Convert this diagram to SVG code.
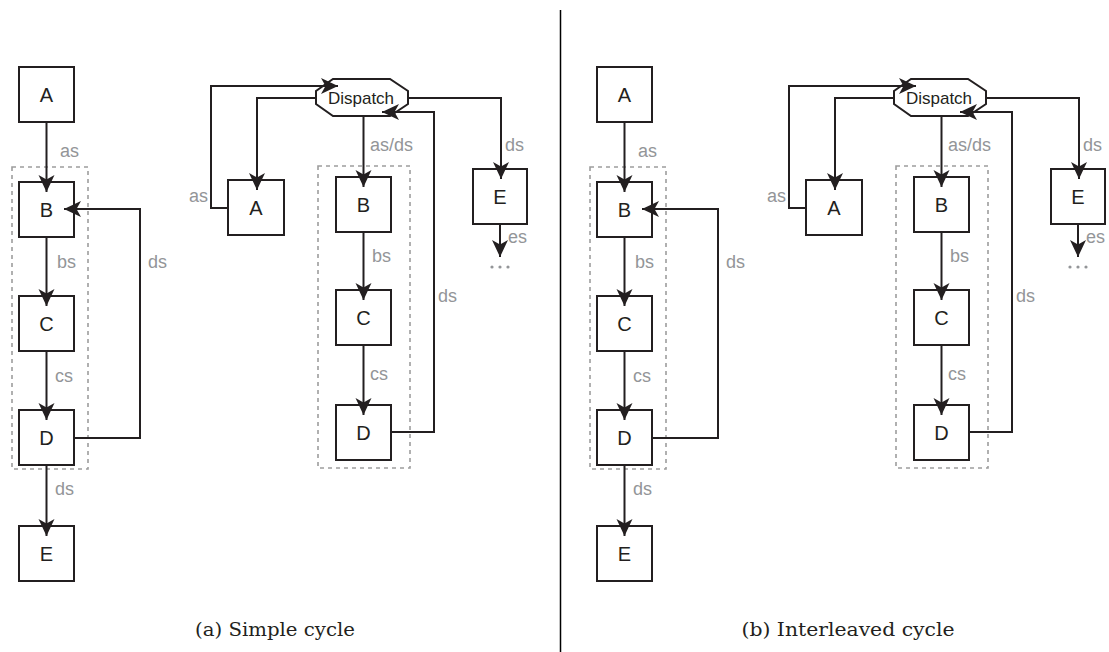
<svg xmlns="http://www.w3.org/2000/svg" width="1109" height="652" viewBox="0 0 1109 652">
  <style>
    .box { fill: #fff; stroke: #231f20; stroke-width: 2; }
    .oct { fill: #fff; stroke: #231f20; stroke-width: 2; }
    .group { fill: none; stroke: #9d9d9d; stroke-width: 1.6; stroke-dasharray: 4 4; }
    .edge { fill: none; stroke: #231f20; stroke-width: 2; marker-end: url(#arrow); }
    .name { font-family: "Liberation Sans", Arial, sans-serif; font-size: 20px; fill: #231f20; text-anchor: middle; }
    .disp { font-family: "Liberation Sans", Arial, sans-serif; font-size: 17px; fill: #231f20; text-anchor: middle; }
    .lbl { font-family: "Liberation Sans", Arial, sans-serif; font-size: 18px; fill: #939598; }
    .cap { font-family: "DejaVu Serif", "Liberation Serif", serif; font-size: 19px; fill: #231f20; text-anchor: middle; }
    .dot { fill: #939598; }
    .divider { stroke: #000; stroke-width: 1.5; }
  </style>
  <defs>
    <marker id="arrow" viewBox="-20 -10 21 20" refX="0" refY="0" markerWidth="21" markerHeight="20" orient="auto" markerUnits="userSpaceOnUse">
      <path d="M0,0 L-17,-8 L-12.5,0 L-17,8 Z" fill="#231f20"/>
    </marker>
  </defs>

  <rect width="1109" height="652" fill="#fff"/>

  <!-- ===== Panel (a): simple cycle ===== -->
  <g id="panel-a">
    <!-- grouping rectangles -->
    <rect class="group" x="12" y="167" width="76" height="302"/>
    <rect class="group" x="318" y="166" width="92" height="302"/>

    <!-- linear chain -->
    <g id="a-chain-A"><rect class="box" x="19" y="67" width="55" height="55"/><text class="name" x="46.5" y="102">A</text></g>
    <g id="a-chain-B"><rect class="box" x="19" y="182" width="55" height="55"/><text class="name" x="46.5" y="217">B</text></g>
    <g id="a-chain-C"><rect class="box" x="19" y="296" width="55" height="55"/><text class="name" x="46.5" y="331">C</text></g>
    <g id="a-chain-D"><rect class="box" x="19" y="410" width="55" height="55"/><text class="name" x="46.5" y="445">D</text></g>
    <g id="a-chain-E"><rect class="box" x="19" y="526" width="55" height="55"/><text class="name" x="46.5" y="561">E</text></g>

    <!-- dispatcher layout -->
    <g id="a-dispatch">
      <polygon class="oct" points="333,79 390,79 408,91 408,104 390,116 333,116 316,104 316,91"/>
      <text class="disp" x="361" y="104">Dispatch</text>
    </g>
    <g id="a-disp-A"><rect class="box" x="228" y="180" width="56" height="55"/><text class="name" x="256" y="215">A</text></g>
    <g id="a-disp-B"><rect class="box" x="336" y="177" width="55" height="55"/><text class="name" x="363.5" y="212">B</text></g>
    <g id="a-disp-C"><rect class="box" x="336" y="290" width="55" height="55"/><text class="name" x="363.5" y="325">C</text></g>
    <g id="a-disp-D"><rect class="box" x="336" y="405" width="55" height="55"/><text class="name" x="363.5" y="440">D</text></g>
    <g id="a-disp-E"><rect class="box" x="473" y="169" width="54" height="55"/><text class="name" x="500" y="204">E</text></g>

    <!-- connectors, drawn over the nodes so arrowheads overlap box edges -->
    <g id="a-connectors">
      <path class="edge" d="M46.5,122 V192"/>
      <path class="edge" d="M46.5,237 V306"/>
      <path class="edge" d="M46.5,351 V420"/>
      <path class="edge" d="M46.5,465 V536"/>
      <path class="edge" d="M74,438 H140 V209 H64"/>

      <path class="edge" d="M316,98 H257 V190"/>
      <path class="edge" d="M228,208 H211 V86 H338"/>
      <path class="edge" d="M363.5,116 V187"/>
      <path class="edge" d="M363.5,232 V300"/>
      <path class="edge" d="M363.5,345 V415"/>
      <path class="edge" d="M391,432 H434 V112 H382"/>
      <path class="edge" d="M408,98 H501 V179"/>
      <path class="edge" d="M500,224 V257"/>
    </g>

    <!-- stream labels -->
    <text class="lbl" x="60" y="157">as</text>
    <text class="lbl" x="57" y="268">bs</text>
    <text class="lbl" x="148" y="268">ds</text>
    <text class="lbl" x="55" y="382">cs</text>
    <text class="lbl" x="55" y="495">ds</text>

    <text class="lbl" x="208" y="202" text-anchor="end">as</text>
    <text class="lbl" x="370" y="151">as/ds</text>
    <text class="lbl" x="505" y="151">ds</text>
    <text class="lbl" x="372" y="262">bs</text>
    <text class="lbl" x="370" y="380">cs</text>
    <text class="lbl" x="438" y="302">ds</text>
    <text class="lbl" x="508" y="243">es</text>
    <circle class="dot" cx="492" cy="267" r="1.6"/>
    <circle class="dot" cx="500" cy="267" r="1.6"/>
    <circle class="dot" cx="508" cy="267" r="1.6"/>

    <text class="cap" x="275" y="636" textLength="160" lengthAdjust="spacingAndGlyphs">(a) Simple cycle</text>
  </g>

  <line class="divider" x1="560.5" y1="10" x2="560.5" y2="652"/>

  <!-- ===== Panel (b): interleaved cycle ===== -->
  <g id="panel-b" transform="translate(578,0)">
    <rect class="group" x="12" y="167" width="76" height="302"/>
    <rect class="group" x="318" y="166" width="92" height="302"/>

    <g id="b-chain-A"><rect class="box" x="19" y="67" width="55" height="55"/><text class="name" x="46.5" y="102">A</text></g>
    <g id="b-chain-B"><rect class="box" x="19" y="182" width="55" height="55"/><text class="name" x="46.5" y="217">B</text></g>
    <g id="b-chain-C"><rect class="box" x="19" y="296" width="55" height="55"/><text class="name" x="46.5" y="331">C</text></g>
    <g id="b-chain-D"><rect class="box" x="19" y="410" width="55" height="55"/><text class="name" x="46.5" y="445">D</text></g>
    <g id="b-chain-E"><rect class="box" x="19" y="526" width="55" height="55"/><text class="name" x="46.5" y="561">E</text></g>

    <g id="b-dispatch">
      <polygon class="oct" points="333,79 390,79 408,91 408,104 390,116 333,116 316,104 316,91"/>
      <text class="disp" x="361" y="104">Dispatch</text>
    </g>
    <g id="b-disp-A"><rect class="box" x="228" y="180" width="56" height="55"/><text class="name" x="256" y="215">A</text></g>
    <g id="b-disp-B"><rect class="box" x="336" y="177" width="55" height="55"/><text class="name" x="363.5" y="212">B</text></g>
    <g id="b-disp-C"><rect class="box" x="336" y="290" width="55" height="55"/><text class="name" x="363.5" y="325">C</text></g>
    <g id="b-disp-D"><rect class="box" x="336" y="405" width="55" height="55"/><text class="name" x="363.5" y="440">D</text></g>
    <g id="b-disp-E"><rect class="box" x="473" y="169" width="54" height="55"/><text class="name" x="500" y="204">E</text></g>

    <g id="b-connectors">
      <path class="edge" d="M46.5,122 V192"/>
      <path class="edge" d="M46.5,237 V306"/>
      <path class="edge" d="M46.5,351 V420"/>
      <path class="edge" d="M46.5,465 V536"/>
      <path class="edge" d="M74,438 H140 V209 H64"/>

      <path class="edge" d="M316,98 H257 V190"/>
      <path class="edge" d="M228,208 H211 V86 H338"/>
      <path class="edge" d="M363.5,116 V187"/>
      <path class="edge" d="M363.5,232 V300"/>
      <path class="edge" d="M363.5,345 V415"/>
      <path class="edge" d="M391,432 H434 V112 H382"/>
      <path class="edge" d="M408,98 H501 V179"/>
      <path class="edge" d="M500,224 V257"/>
    </g>

    <text class="lbl" x="60" y="157">as</text>
    <text class="lbl" x="57" y="268">bs</text>
    <text class="lbl" x="148" y="268">ds</text>
    <text class="lbl" x="55" y="382">cs</text>
    <text class="lbl" x="55" y="495">ds</text>

    <text class="lbl" x="208" y="202" text-anchor="end">as</text>
    <text class="lbl" x="370" y="151">as/ds</text>
    <text class="lbl" x="505" y="151">ds</text>
    <text class="lbl" x="372" y="262">bs</text>
    <text class="lbl" x="370" y="380">cs</text>
    <text class="lbl" x="438" y="302">ds</text>
    <text class="lbl" x="508" y="243">es</text>
    <circle class="dot" cx="492" cy="267" r="1.6"/>
    <circle class="dot" cx="500" cy="267" r="1.6"/>
    <circle class="dot" cx="508" cy="267" r="1.6"/>

    <text class="cap" x="270" y="636" textLength="213" lengthAdjust="spacingAndGlyphs">(b) Interleaved cycle</text>
  </g>
</svg>
